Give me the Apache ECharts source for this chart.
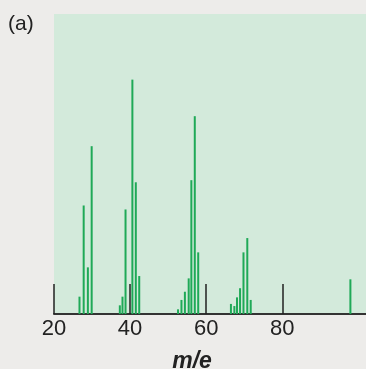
<!DOCTYPE html>
<html>
<head>
<meta charset="utf-8">
<script src="https://cdn.jsdelivr.net/npm/echarts@6/dist/echarts.min.js"></script>
<style>
  html, body { margin: 0; padding: 0; background: #edecea; }
  #chart { width: 366px; height: 369px; }
</style>
</head>
<body>
<div id="chart"></div>
<script>
// Mass spectrum peaks: m/e position and relative intensity (base peak = 100)
const massToCharge = [
  26.7, 27.8, 28.9, 29.9,
  37.3, 38.0, 38.8, 40.6, 41.5, 42.4,
  52.6, 53.5, 54.4, 55.4, 56.1, 57.0, 57.9,
  66.5, 67.4, 68.1, 68.9, 69.8, 70.8, 71.7,
  97.9
];
const intensity = [
  7.4, 46.3, 19.9, 71.6,
  3.7, 7.4, 44.6, 100, 56.2, 16.2,
  2.0, 6.0, 9.5, 15.2, 57.1, 84.4, 26.3,
  4.3, 3.4, 7.1, 11.0, 26.3, 32.4, 6.0,
  14.8
];
const tickLabels = [20, 40, 60, 80];
const axisMin = 20;
const axisMax = 102;
const intensityMax = 128;

const chart = echarts.init(document.getElementById('chart'), null, { renderer: 'canvas' });

chart.setOption({
  animation: false,
  backgroundColor: '#edecea',
  grid: {
    left: 54, right: 0, top: 14, bottom: 55,
    show: true,
    backgroundColor: '#d3eadb',
    borderWidth: 0
  },
  xAxis: {
    type: 'value',
    min: axisMin,
    max: axisMax,
    interval: 20,
    axisLine: { show: true, lineStyle: { color: '#333', width: 2 } },
    axisTick: {
      show: true,
      inside: true,
      length: 30,
      customValues: tickLabels,
      lineStyle: { color: '#222', width: 1.5 }
    },
    axisLabel: {
      customValues: tickLabels,
      fontSize: 22,
      color: '#222',
      margin: 4,
      fontFamily: 'Liberation Sans, Arial, sans-serif'
    },
    splitLine: { show: false }
  },
  yAxis: {
    type: 'value',
    min: 0,
    max: intensityMax,
    show: false
  },
  series: [{
    type: 'bar',
    silent: true,
    barWidth: 2,
    itemStyle: { color: '#1fa957' },
    data: massToCharge.map((m, i) => [m, intensity[i]])
  }],
  graphic: [
    {
      type: 'text',
      x: 8, y: 14,
      style: {
        text: '(a)',
        font: '21px Liberation Sans, Arial, sans-serif',
        fill: '#222'
      }
    },
    {
      type: 'text',
      x: 192, y: 362,
      style: {
        text: 'm/e',
        font: 'italic bold 23px Liberation Sans, Arial, sans-serif',
        fill: '#222',
        textAlign: 'center',
        textVerticalAlign: 'middle'
      }
    }
  ]
});
</script>
</body>
</html>
